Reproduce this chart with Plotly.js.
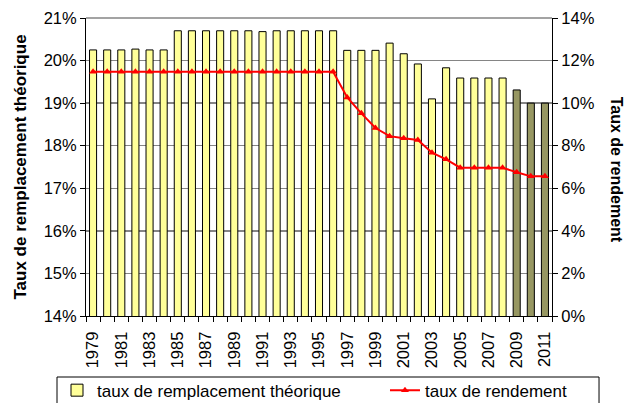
<!DOCTYPE html>
<html>
<head>
<meta charset="utf-8">
<script src="https://cdn.plot.ly/plotly-3.0.1.min.js"></script>
<style>html,body{margin:0;padding:0;background:#fff;}#chart{width:626px;height:403px;}</style>
</head>
<body>
<div id="chart"></div>
<script>
var years = [1979,1980,1981,1982,1983,1984,1985,1986,1987,1988,1989,1990,1991,1992,1993,1994,1995,1996,1997,1998,1999,2000,2001,2002,2003,2004,2005,2006,2007,2008,2009,2010,2011];
var tauxRemplacement = [20.25,20.25,20.25,20.27,20.25,20.25,20.70,20.70,20.70,20.70,20.70,20.70,20.68,20.70,20.70,20.70,20.70,20.70,20.24,20.24,20.24,20.41,20.16,19.92,19.10,19.83,19.59,19.59,19.59,19.59,19.31,19.00,19.00];
var tauxRendement = [11.47,11.47,11.47,11.47,11.47,11.47,11.47,11.47,11.47,11.47,11.47,11.47,11.47,11.47,11.47,11.47,11.47,11.47,10.27,9.52,8.83,8.45,8.35,8.27,7.67,7.36,6.97,6.97,6.97,6.97,6.75,6.56,6.56];
var projectedYears = [2009,2010,2011];
var labelYears = [1979,1981,1983,1985,1987,1989,1991,1993,1995,1997,1999,2001,2003,2005,2007,2009,2011];
var labelText = labelYears.map(String);
var seriesNames = ['taux de remplacement théorique','taux de rendement'];
var axisTitles = ['Taux de remplacement théorique','Taux de rendement'];

var FONT = 'Liberation Sans, Arial, sans-serif';
var TICKSIZE = 16.5;
var GRID = '#858585';
var barColors = years.map(function(y){ return projectedYears.indexOf(y) >= 0 ? '#979762' : '#ffff99'; });

var traces = [
  {
    type: 'bar', x: years, y: tauxRemplacement, name: seriesNames[0],
    width: 0.5,
    marker: {color: barColors, line: {color: '#000', width: 1}},
    yaxis: 'y', legend: 'legend'
  },
  {
    type: 'scatter', mode: 'lines+markers', x: years, y: tauxRendement, name: seriesNames[1],
    line: {color: '#ff0000', width: 2},
    marker: {symbol: 'triangle-up', size: 7, color: '#ff0000'},
    yaxis: 'y2', legend: 'legend2'
  }
];

var legendFont = {family: FONT, size: 17, color: '#000'};

var layout = {
  width: 626, height: 403,
  margin: {l: 86, r: 74, t: 18, b: 87, autoexpand: false},
  paper_bgcolor: '#fff', plot_bgcolor: '#fff',
  font: {family: FONT, size: 16, color: '#000'},
  showlegend: true,
  legend: {
    orientation: 'h', x: -0.0622, xanchor: 'left', y: -0.19, yanchor: 'top',
    borderwidth: 0, bgcolor: 'rgba(0,0,0,0)', font: legendFont
  },
  legend2: {
    orientation: 'h', x: 0.6416, xanchor: 'left', y: -0.19, yanchor: 'top',
    borderwidth: 0, bgcolor: 'rgba(0,0,0,0)', font: legendFont
  },
  xaxis: {
    range: [1978.5, 2011.5],
    tickmode: 'array', tickvals: labelYears, ticktext: labelText,
    tickangle: -90, ticks: 'outside', ticklen: 8, tickcolor: 'rgba(0,0,0,0)',
    tickfont: {family: FONT, size: TICKSIZE, color: '#000'},
    showline: true, linecolor: '#000', linewidth: 1,
    showgrid: false, zeroline: false,
    minor: {tick0: 1978.5, dtick: 1, ticks: 'outside', ticklen: 5, tickcolor: '#000', showgrid: false}
  },
  yaxis: {
    range: [14, 21], dtick: 1, tick0: 14, ticksuffix: '%',
    ticks: 'outside', ticklen: 5, tickcolor: '#000',
    showline: true, linecolor: '#000', linewidth: 1,
    showgrid: true, gridcolor: GRID, gridwidth: 1.5, zeroline: false,
    tickfont: {family: FONT, size: TICKSIZE, color: '#000'},
    title: {text: axisTitles[0], font: {family: FONT, size: 17, color: '#000', weight: 'bold'}, standoff: 12}
  },
  yaxis2: {
    range: [0, 14], dtick: 2, tick0: 0, ticksuffix: '%',
    overlaying: 'y', side: 'right',
    ticks: 'outside', ticklen: 5, tickcolor: '#000',
    showline: true, linecolor: '#000', linewidth: 1,
    showgrid: false, zeroline: false,
    tickfont: {family: FONT, size: TICKSIZE, color: '#000'}
  },
  shapes: [
    {
      type: 'line', xref: 'paper', yref: 'paper', x0: 0, x1: 1, y0: 1, y1: 1,
      line: {color: GRID, width: 1.5}, layer: 'below'
    },
    {
      type: 'rect', xref: 'paper', yref: 'paper',
      x0: -0.0622, x1: 1.1009, y0: -0.2047, y1: -0.40,
      line: {color: '#000', width: 1}, fillcolor: 'rgba(0,0,0,0)', layer: 'above'
    }
  ],
  annotations: [{
    text: '<b>' + axisTitles[1] + '</b>', textangle: 90,
    xref: 'paper', yref: 'paper', x: 1.138, y: 0.49, xanchor: 'center', yanchor: 'middle',
    showarrow: false, font: {family: FONT, size: 16, color: '#000'}
  }]
};

Plotly.newPlot('chart', traces, layout, {staticPlot: true, displayModeBar: false});
</script>
</body>
</html>
